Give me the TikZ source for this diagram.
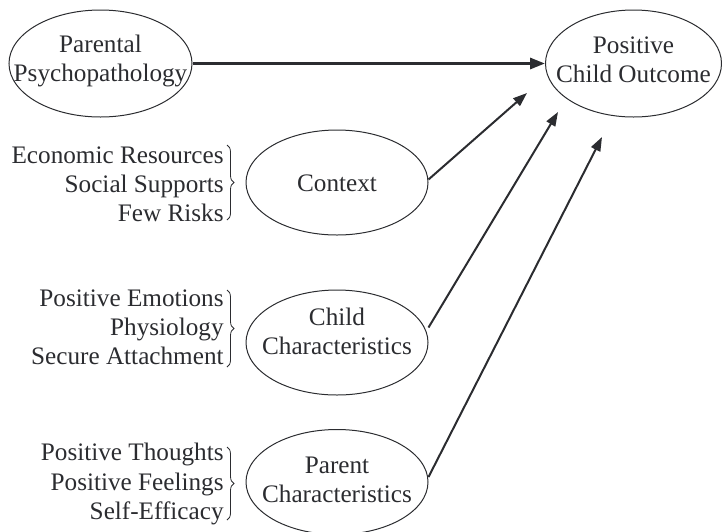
\documentclass[tikz,border=0pt]{standalone}
\usepackage{fontspec}
\setmainfont{Liberation Serif}
\usetikzlibrary{shapes.geometric,arrows.meta,decorations.pathreplacing}
\definecolor{ink}{HTML}{2B2C30}
\begin{document}
\begin{tikzpicture}[x=0.5pt,y=-0.5pt,
  oval/.style={draw=ink,line width=0.5pt,ellipse,inner sep=0pt,minimum width=91pt,minimum height=52.5pt},
  txt/.style={text=ink,align=center,inner sep=0pt,font=\fontsize{12.6}{14.6}\selectfont},
  lst/.style={text=ink,align=right,inner sep=0pt,anchor=east,font=\fontsize{12.6}{14.6}\selectfont},
  brc/.style={draw=ink,line width=0.4pt,decorate,decoration={brace,amplitude=3.5pt}},
  arr/.style={draw=ink,line width=1pt,-{Triangle[length=7pt,width=5pt]}},
  mainarr/.style={draw=ink,line width=1.5pt,-{Triangle[length=7.5pt,width=5.5pt]}}]
\useasboundingbox (0,0) rectangle (722,531);
% ovals
\node[oval,minimum width=91.5pt,minimum height=53.5pt] (pp) at (100.5,63.5) {};
\node[oval,minimum width=88pt,minimum height=53.5pt] (pco) at (633.5,63.5) {};
\node[oval] (ctx) at (337,182.5) {};
\node[oval] (chc) at (337,342.5) {};
\node[oval] (prc) at (337,482) {};
% texts
\node[txt] (ppt) at (100.5,61) {Parental\\Psychopathology};
\node[txt] (pcot) at (633.5,60) {Positive\\Child Outcome};
\node[txt] (ctxt) at (337,183) {Context};
\node[txt] (chct) at (337,331) {Child\\Characteristics};
\node[txt] (prct) at (337,480) {Parent\\Characteristics};
% lists
\node[lst] (l1) at (224,184) {Economic Resources\\Social Supports\\Few Risks};
\node[lst] (l2) at (224,327) {Positive Emotions\\Physiology\\Secure Attachment};
\node[lst] (l3) at (224,484) {Positive Thoughts\\Positive Feelings\\Self-Efficacy};
% braces
\coordinate (b1a) at (227,145); \coordinate (b1b) at (227,220);
\coordinate (b2a) at (227,290); \coordinate (b2b) at (227,367);
\coordinate (b3a) at (227,447); \coordinate (b3b) at (227,520);
\draw[brc] (b1a) -- (b1b);
\draw[brc] (b2a) -- (b2b);
\draw[brc] (b3a) -- (b3b);
% arrow ends
\coordinate (t1) at (527,93);
\coordinate (t2) at (558,112);
\coordinate (t3) at (602,137);
\draw[mainarr] (pp.east) -- (pco.west);
\draw[arr] (ctx.east) ++(0,-3) -- (t1);
\draw[arr] (chc.east) ++(0,-15) -- (t2);
\draw[arr] (prc.east) ++(0,-5) -- (t3);
\end{tikzpicture}
\end{document}
